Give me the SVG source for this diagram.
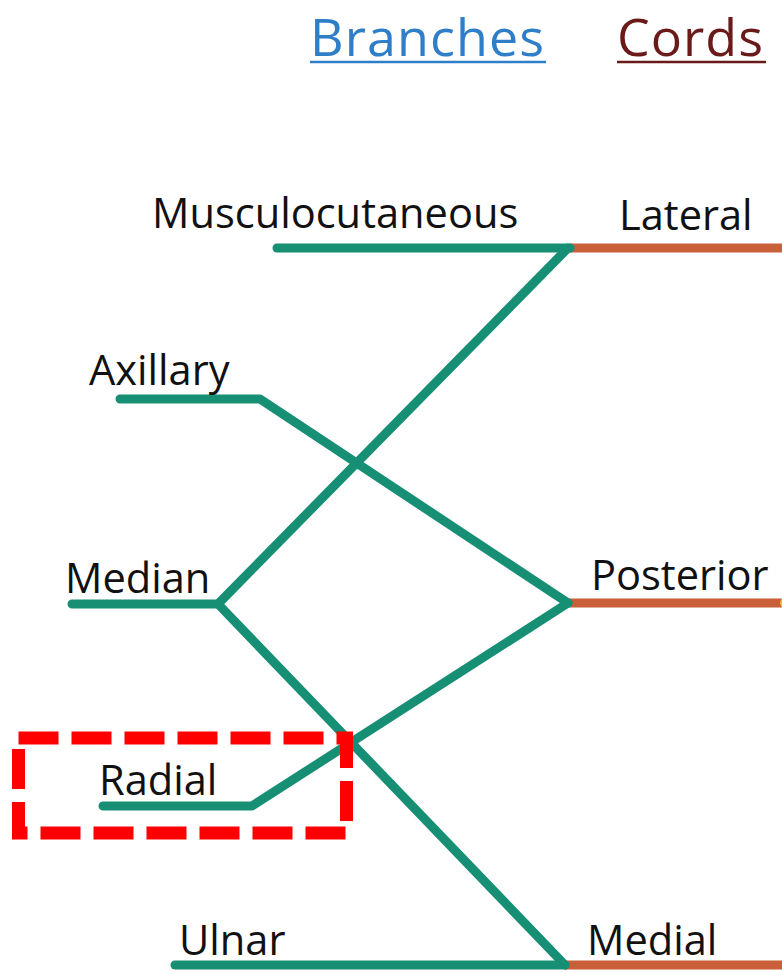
<svg xmlns="http://www.w3.org/2000/svg" width="782" height="974" viewBox="0 0 782 974">
  <style>
    .lbl { font-family: "Open Sans", "Noto Sans", "Liberation Sans", sans-serif; font-size: 41.6px; fill: #111; }
    .head { font-family: "Open Sans", "Noto Sans", "Liberation Sans", sans-serif; font-size: 52px; }
    .branch { fill: none; stroke: #178f74; stroke-width: 9; stroke-linecap: round; stroke-linejoin: round; }
    .cord { fill: none; stroke: #c95f38; stroke-width: 9; }
  </style>
  <rect width="782" height="974" fill="#fff"/>

  <!-- column headings -->
  <g id="heading-branches">
    <text class="head" x="310" y="56" fill="#2f7fc8" textLength="234">Branches</text>
    <line x1="310" y1="62" x2="546" y2="62" stroke="#2f7fc8" stroke-width="2.5"/>
  </g>
  <g id="heading-cords">
    <text class="head" x="617" y="56" fill="#6b1a1a" textLength="146">Cords</text>
    <line x1="617" y1="62" x2="766" y2="62" stroke="#6b1a1a" stroke-width="2.5"/>
  </g>

  <!-- connectors -->
  <g id="connectors">
    <path class="cord" d="M570 248 H790"/>
    <path class="cord" d="M568 603 H790"/>
    <path class="cord" d="M565 965 H790"/>
    <path class="branch" d="M277 248 H570"/>
    <path class="branch" d="M120 399 H260 L568 603"/>
    <path class="branch" d="M72 604 H218 L568 248"/>
    <path class="branch" d="M218 604 L565 965"/>
    <path class="branch" d="M103 806 H252 L568 603"/>
    <path class="branch" d="M175 965 H565"/>
    <circle cx="786" cy="603" r="6" fill="#f2c200"/>
  </g>

  <!-- branches -->
  <g id="node-musculocutaneous"><text class="lbl" x="152" y="228">Musculocutaneous</text></g>
  <g id="node-axillary"><text class="lbl" x="89" y="385">Axillary</text></g>
  <g id="node-median"><text class="lbl" x="65" y="593">Median</text></g>
  <g id="node-radial"><text class="lbl" x="99" y="795">Radial</text></g>
  <g id="node-ulnar"><text class="lbl" x="179" y="955">Ulnar</text></g>

  <!-- cords -->
  <g id="node-lateral"><text class="lbl" x="619" y="230">Lateral</text></g>
  <g id="node-posterior"><text class="lbl" x="591" y="590">Posterior</text></g>
  <g id="node-medial"><text class="lbl" x="587" y="955">Medial</text></g>

  <!-- highlight box -->
  <g id="highlight-radial">
    <rect x="18.5" y="738" width="328" height="95" fill="none" stroke="#ff0000" stroke-width="13" stroke-dasharray="40 13"/>
  </g>
</svg>
